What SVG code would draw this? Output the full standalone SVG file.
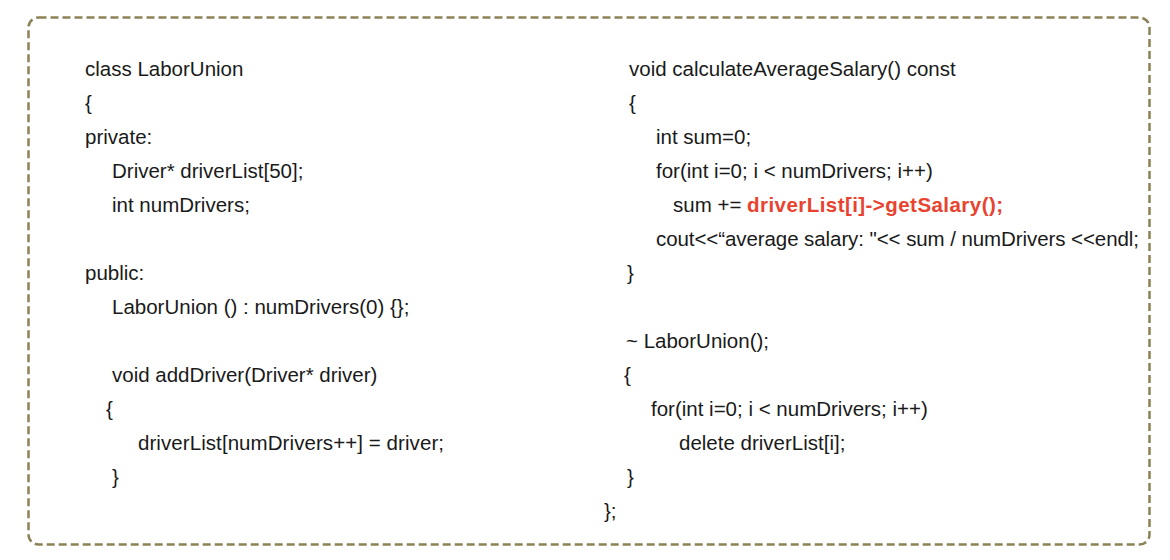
<svg xmlns="http://www.w3.org/2000/svg" width="1170" height="560" viewBox="0 0 1170 560">
<style>
.c{font-family:"Liberation Sans",Arial,sans-serif;font-size:20.5px;fill:#1a1a1a}
.r{fill:#e8432e;font-weight:bold}
</style>
<rect x="0" y="0" width="1170" height="560" fill="#ffffff"/>
<g id="frame">
<rect x="28.5" y="17.5" width="1121" height="527" rx="10" ry="10" fill="none" stroke="#8c8257" stroke-width="2.5" stroke-dasharray="8 4"/>
</g>
<g id="left-code" class="c">
<text x="85" y="76">class LaborUnion</text>
<text x="85" y="110">{</text>
<text x="85" y="144">private:</text>
<text x="112" y="178">Driver* driverList[50];</text>
<text x="112" y="212">int numDrivers;</text>
<text x="85" y="280">public:</text>
<text x="112" y="314">LaborUnion () : numDrivers(0) {};</text>
<text x="112" y="382">void addDriver(Driver* driver)</text>
<text x="106" y="416">{</text>
<text x="138" y="450" textLength="306">driverList[numDrivers++] = driver;</text>
<text x="112" y="484">}</text>
</g>
<g id="right-code" class="c">
<text x="629" y="76">void calculateAverageSalary() const</text>
<text x="629" y="110">{</text>
<text x="656" y="144">int sum=0;</text>
<text x="656" y="178">for(int i=0; i &lt; numDrivers; i++)</text>
<text x="673" y="212">sum +=</text>
<text x="747" y="212" class="r" textLength="256">driverList[i]-&gt;getSalary();</text>
<text x="656" y="246" textLength="483">cout&lt;&lt;“average salary: "&lt;&lt; sum / numDrivers &lt;&lt;endl;</text>
<text x="627" y="280">}</text>
<text x="626" y="348">~ LaborUnion();</text>
<text x="624" y="382">{</text>
<text x="651" y="416">for(int i=0; i &lt; numDrivers; i++)</text>
<text x="679" y="450">delete driverList[i];</text>
<text x="627" y="484">}</text>
<text x="604" y="518">};</text>
</g>
</svg>
